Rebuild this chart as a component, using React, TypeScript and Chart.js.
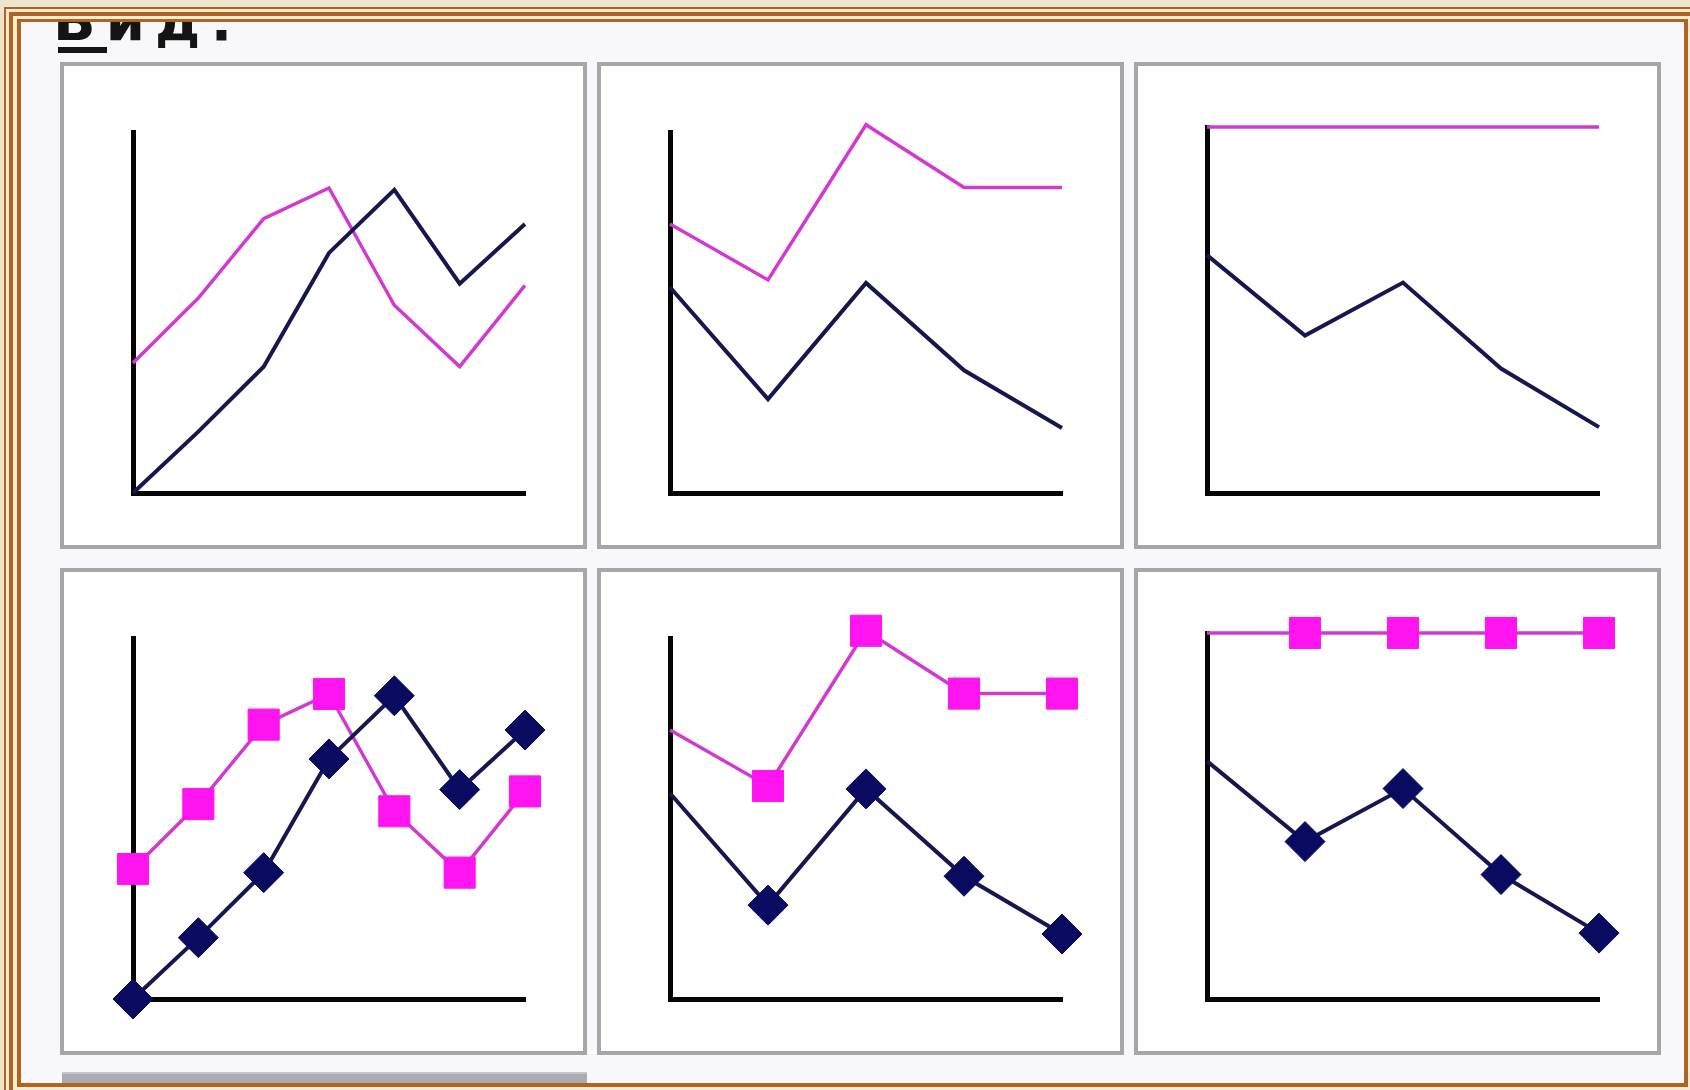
import React, { useEffect, useRef } from 'react';
import { Chart, registerables } from 'chart.js';

Chart.register(...registerables);

// ---- data ----
const lineLabels = ['1', '2', '3', '4', '5', '6', '7'];
const lineNavy = [0, 17, 35, 66.5, 84, 58, 74.5];
const linePink = [36, 54, 76, 84.5, 52, 35, 57.5];

const stackLabels = ['1', '2', '3', '4', '5'];
const stackNavy = [57, 26, 58.2, 34, 18];
const stackPink = [17.5, 33, 43.8, 50.6, 66.6];

const pctNavy = [65, 43, 57.5, 34, 18];
const pctPink = [35, 57, 42.5, 66, 82];

const titleText = 'Вид:';

// ---- styles ----
const NAVY_LINE = '#17174f';
const NAVY_MARK = '#0a0a60';
const PINK_LINE = '#d03ad0';
const PINK_MARK = '#ff14f0';
const BROWN = '#b2641e';

type Kind = 'line' | 'stacked' | 'percent';
interface PanelSpec {
  kind: Kind;
  markers: boolean;
  col: number;
  row: number;
}

const panels: PanelSpec[] = [
  { kind: 'line', markers: false, col: 0, row: 0 },
  { kind: 'stacked', markers: false, col: 1, row: 0 },
  { kind: 'percent', markers: false, col: 2, row: 0 },
  { kind: 'line', markers: true, col: 0, row: 1 },
  { kind: 'stacked', markers: true, col: 1, row: 1 },
  { kind: 'percent', markers: true, col: 2, row: 1 },
];

const CW = 519;
const CH = 479;

function MiniChart({ spec }: { spec: PanelSpec }) {
  const ref = useRef<HTMLCanvasElement | null>(null);
  useEffect(() => {
    const canvas = ref.current;
    if (!canvas) return;
    const labels = spec.kind === 'line' ? lineLabels : stackLabels;
    const navy = spec.kind === 'line' ? lineNavy : spec.kind === 'stacked' ? stackNavy : pctNavy;
    const pink = spec.kind === 'line' ? linePink : spec.kind === 'stacked' ? stackPink : pctPink;
    const radius = (r: number) =>
      !spec.markers ? 0 : spec.kind === 'line' ? r : labels.map((_, i) => (i === 0 ? 0 : r));
    const axisBorder = { display: true, color: '#050505', width: 5 };
    const chart = new Chart(canvas, {
      type: 'line',
      data: {
        labels,
        datasets: [
          {
            data: navy,
            borderColor: NAVY_LINE,
            borderWidth: 4,
            pointStyle: 'rectRot',
            pointRadius: radius(20) as any,
            pointBackgroundColor: NAVY_MARK,
            pointBorderColor: NAVY_MARK,
            pointBorderWidth: 1,
            tension: 0,
            fill: false,
            clip: false as any,
          },
          {
            data: pink,
            borderColor: PINK_LINE,
            borderWidth: 3.5,
            pointStyle: 'rect',
            pointRadius: radius(22) as any,
            pointBackgroundColor: PINK_MARK,
            pointBorderColor: PINK_MARK,
            pointBorderWidth: 1,
            tension: 0,
            fill: false,
            clip: false as any,
          },
        ],
      },
      options: {
        animation: false,
        responsive: false,
        maintainAspectRatio: false,
        events: [],
        layout: {
          padding: { left: 69, right: 58, top: spec.kind === 'percent' ? 61 : 66, bottom: 52 },
        },
        plugins: {
          legend: { display: false },
          tooltip: { enabled: false },
          title: { display: false },
        },
        scales: {
          x: {
            type: 'category',
            offset: false,
            grid: { display: false, drawTicks: false },
            ticks: { display: false },
            border: axisBorder,
          },
          y: {
            stacked: spec.kind !== 'line',
            min: 0,
            max: 100,
            grid: { display: false, drawTicks: false },
            ticks: { display: false },
            border: axisBorder,
          },
        },
      },
    });
    return () => chart.destroy();
  }, [spec]);
  return <canvas ref={ref} width={CW} height={CH} style={{ display: 'block', width: CW, height: CH }} />;
}

export default function App() {
  return (
    <div
      style={{
        position: 'fixed',
        left: 0,
        top: 0,
        width: 1690,
        height: 1090,
        background: '#efe4cc',
        overflow: 'hidden',
      }}
    >
      {/* outer thin frame line */}
      <div
        style={{
          position: 'absolute',
          left: 4,
          top: 7,
          width: 1700,
          height: 1100,
          borderTop: `2px solid ${BROWN}`,
          borderLeft: `2px solid ${BROWN}`,
          background: '#f5ecd8',
        }}
      />
      {/* middle thick frame line */}
      <div
        style={{
          position: 'absolute',
          left: 9,
          top: 12,
          width: 1700,
          height: 1100,
          borderTop: `4px solid ${BROWN}`,
          borderLeft: `4px solid ${BROWN}`,
          background: '#f5ecd8',
        }}
      />
      {/* inner frame with content */}
      <div
        style={{
          position: 'absolute',
          left: 17,
          top: 19,
          width: 1663,
          height: 1061,
          borderStyle: 'solid',
          borderColor: BROWN,
          borderWidth: '3px 4px 4px 4px',
          background: '#f8f8fc',
          overflow: 'hidden',
        }}
      >
        <div
          style={{
            position: 'absolute',
            left: 32,
            top: -29,
            fontFamily: '"DejaVu Sans", sans-serif',
            fontWeight: 'bold',
            fontSize: 56,
            lineHeight: 1,
            letterSpacing: 10,
            color: '#141414',
            whiteSpace: 'nowrap',
          }}
        >
          {titleText}
        </div>
        <div
          style={{ position: 'absolute', left: 37, top: 25, width: 49, height: 6, background: '#141414' }}
        />
        {panels.map((p, i) => (
          <div
            key={i}
            style={{
              position: 'absolute',
              left: 39 + 537 * p.col,
              top: 40 + 506 * p.row,
              width: CW,
              height: CH,
              border: '4px solid #a6a6a6',
              background: '#ffffff',
            }}
          >
            <MiniChart spec={p} />
          </div>
        ))}
        {/* horizontal scrollbar remnant */}
        <div
          style={{
            position: 'absolute',
            left: 41,
            top: 1050,
            width: 525,
            height: 20,
            background: '#a9aab2',
            borderTop: '2px solid #c4c5cb',
          }}
        />
      </div>
    </div>
  );
}
